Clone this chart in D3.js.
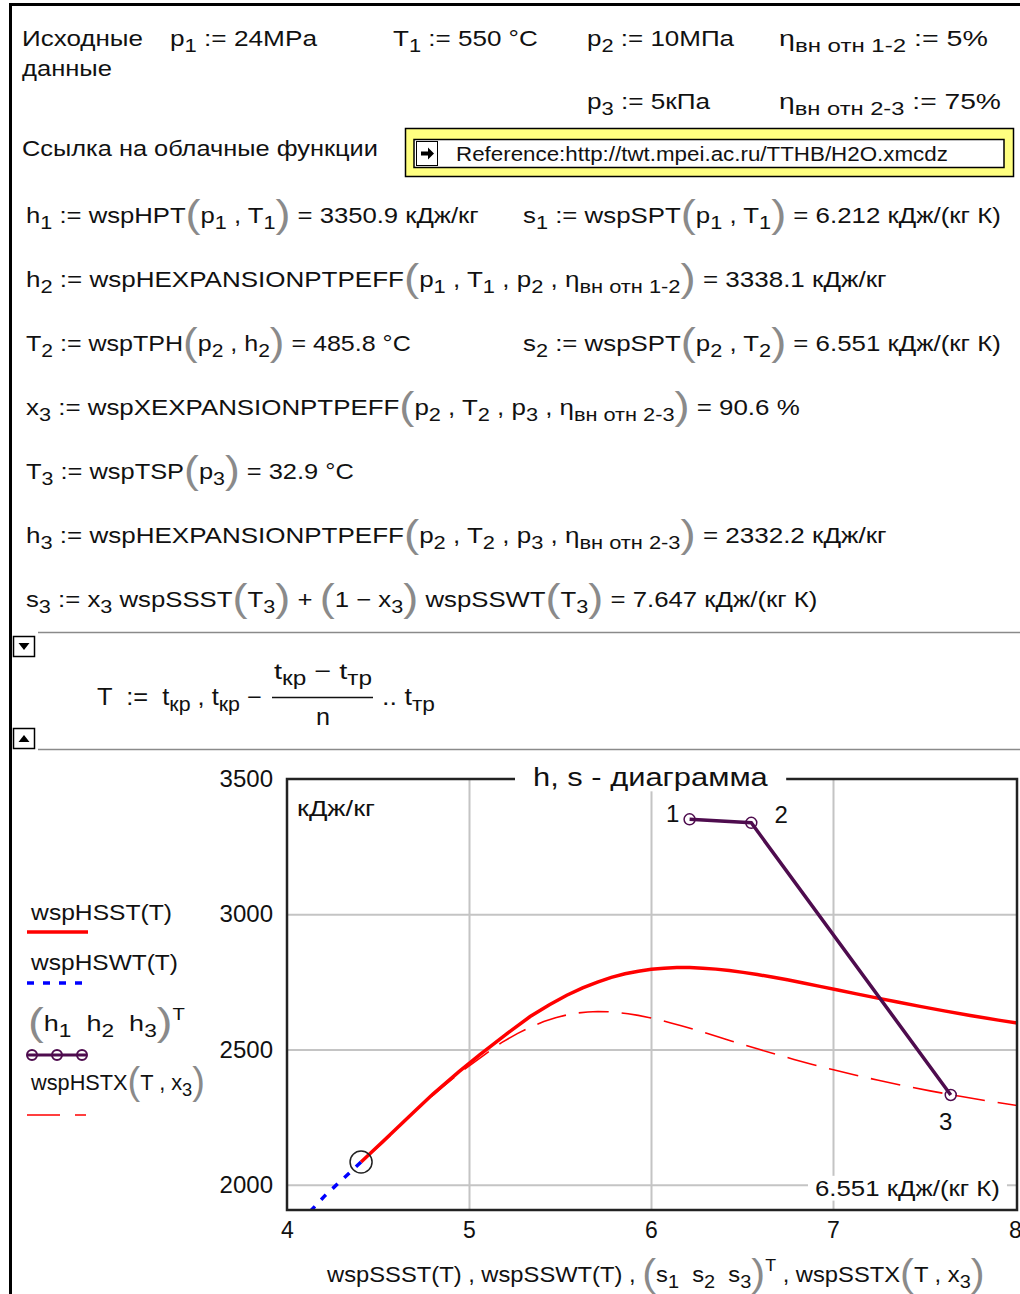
<!DOCTYPE html>
<html><head><meta charset="utf-8">
<script src="https://cdn.jsdelivr.net/npm/d3@7"></script>
<style>
html,body{margin:0;padding:0;background:#fff;}
svg{display:block;font-family:"Liberation Sans",Arial,sans-serif;}
</style></head><body>
<svg id="c" width="1020" height="1294"></svg>
<script>
// ---------------- data ----------------
const xTicks = [4, 5, 6, 7, 8];
const yTicks = [2000, 2500, 3000, 3500];
// saturated steam line wspSSST(T), wspHSST(T)
const steamS = [4.407,4.55,4.625,4.70,4.8004,4.945,5.0600,5.2177,5.3359,5.4420,5.5373,5.6244,5.7059,5.7821,5.8571,5.9306,6.0019,6.0716,6.1423,6.2128,6.2840,6.3563,6.4302,6.5059,6.5841,6.6649,6.7491,6.8371,6.9284,7.0264,7.1292,7.2385,7.3542,7.4781,7.6111,7.7540,7.9082,8.0748,8.2556];
const steamH = [2084.3,2175,2223,2271,2334.5,2418.4,2481.6,2563.6,2622.2,2666.0,2700.6,2727.9,2749.6,2766.7,2779.9,2789.7,2796.6,2800.9,2803.0,2802.9,2800.9,2797.3,2792.0,2785.3,2777.2,2768.3,2757.7,2745.9,2733.5,2720.1,2705.9,2691.1,2675.6,2659.6,2643.0,2626.1,2608.8,2591.3,2573.5];
// saturated water line wspSSWT(T), wspHSWT(T)
const waterS = [4.407,4.29,4.21,4.16,4.1112,3.9167];
const waterH = [2084.3,2011,1961,1925,1890.7,1763];
// wet steam line wspSSTX(T,x3), wspHSTX(T,x3)
const wetS = [4.407,4.5256,4.586,4.649,4.7357,4.8553,4.9486,5.0825,5.1789,5.2652,5.3417,5.4111,5.4755,5.5360,5.5951,5.6530,5.7089,5.7635,5.8189,5.8741,5.9300,5.9867,6.0449,6.1044,6.1663,6.2303,6.2973,6.3675,6.4406,6.5196,6.6027,6.6915,6.7858,6.8873,6.9968,7.1149,7.2429,7.3820,7.5334,7.6986,7.8794,8.0775];
const wetH = [2084.3,2155,2195,2238.5,2292.8,2361.6,2414.0,2479.7,2525.6,2558.9,2584.1,2603.3,2617.5,2627.8,2634.9,2638.9,2640.4,2639.7,2637.0,2632.5,2626.3,2618.7,2609.6,2599.4,2587.8,2575.7,2562.0,2547.2,2531.9,2515.8,2498.9,2481.5,2463.5,2445.0,2426.1,2406.7,2387.2,2367.4,2347.3,2327.2,2306.8,2286.4];
// process points
const procS = [6.212, 6.551, 7.647];
const procH = [3350.9, 3338.1, 2332.2];
const procLabels = ["1", "2", "3"];
// critical point
const critS = [4.407];
const critH = [2084.3];

// ---------------- helpers ----------------
const svg = d3.select("#c");

function mt(parent, spec, x0, x1, yb, fs, opts) {
  opts = opts || {};
  const t = parent.append("text").attr("font-size", fs).style("white-space", "pre")
    .attr("fill", opts.fill || "#111");
  let i = 0, cur = 0;
  const pieces = [];
  while (i < spec.length) {
    const c = spec[i];
    if ((c === "_" || c === "^") && spec[i + 1] === "{") {
      const j = spec.indexOf("}", i);
      pieces.push({ t: spec.slice(i + 2, j), k: c === "_" ? "sub" : "sup" });
      i = j + 1;
    } else if (c === "[" || c === "]") {
      pieces.push({ t: c === "[" ? "(" : ")", k: "paren" });
      i++;
    } else {
      let j = i;
      while (j < spec.length && spec[j] !== "[" && spec[j] !== "]" &&
        !((spec[j] === "_" || spec[j] === "^") && spec[j + 1] === "{")) j++;
      pieces.push({ t: spec.slice(i, j), k: "n" });
      i = j;
    }
  }
  pieces.forEach(p => {
    let size = fs, sh = 0, fill = null;
    if (p.k === "sub") { size = fs * 0.84; sh = fs * 0.27; }
    if (p.k === "sup") { size = fs * 0.75; sh = -fs * 0.5; }
    if (p.k === "paren") { size = fs * 1.75; sh = fs * 0.17; fill = "#8a8a8a"; }
    const ts = t.append("tspan").attr("font-size", size).attr("dy", sh - cur).text(p.t);
    if (fill) ts.attr("fill", fill);
    cur = sh;
  });
  const bb = t.node().getBBox();
  let k = 1;
  if (x1 != null) k = (x1 - x0) / bb.width;
  let tx = x0 - bb.x * k;
  if (opts.anchor === "middle") tx = x0 - (bb.x + bb.width / 2) * k;
  t.attr("transform", `translate(${tx},${yb}) scale(${k},1)`);
  return t;
}

// ---------------- page frame ----------------
svg.append("line").attr("x1", 10.5).attr("x2", 10.5).attr("y1", 3).attr("y2", 1294)
  .attr("stroke", "#000").attr("stroke-width", 3);
svg.append("line").attr("x1", 9).attr("x2", 1020).attr("y1", 4.5).attr("y2", 4.5)
  .attr("stroke", "#000").attr("stroke-width", 3);

// ---------------- header ----------------
const hdr = svg.append("g");
mt(hdr, "Исходные", 22, 143, 46, 22);
mt(hdr, "данные", 22, 112, 76, 22);
mt(hdr, "p_{1} := 24MPa", 170, 318, 46, 22);
mt(hdr, "T_{1} := 550 °C", 393, 538, 46, 22);
mt(hdr, "p_{2} := 10МПа", 587, 735, 46, 22);
mt(hdr, "η_{вн отн 1-2} := 5%", 779, 988, 46, 22);
mt(hdr, "p_{3} := 5кПа", 587, 711, 109, 22);
mt(hdr, "η_{вн отн 2-3} := 75%", 779, 1001, 109, 22);
mt(hdr, "Ссылка на облачные функции", 22, 378, 156, 22);

// reference box
hdr.append("rect").attr("x", 405.5).attr("y", 128.5).attr("width", 608).attr("height", 48)
  .attr("fill", "#ffff80").attr("stroke", "#000").attr("stroke-width", 1.5);
hdr.append("rect").attr("x", 414).attr("y", 139.5).attr("width", 590).attr("height", 28)
  .attr("fill", "#fff").attr("stroke", "#000").attr("stroke-width", 1.5);
hdr.append("rect").attr("x", 416.5).attr("y", 141.5).attr("width", 21).attr("height", 24)
  .attr("fill", "#fff").attr("stroke", "#000").attr("stroke-width", 1);
hdr.append("path").attr("d", "M421,151.5 L428,151.5 L428,147.5 L434,153.5 L428,159.5 L428,155.5 L421,155.5 Z")
  .attr("fill", "#000");
mt(hdr, "Reference:http://twt.mpei.ac.ru/TTHB/H2O.xmcdz", 456, 948, 161, 20);

// ---------------- equations ----------------
const eq = svg.append("g");
mt(eq, "h_{1} := wspHPT[p_{1} , T_{1}] = 3350.9 кДж/кг", 26, 479, 223, 22);
mt(eq, "s_{1} := wspSPT[p_{1} , T_{1}] = 6.212 кДж/(кг К)", 523, 1001, 223, 22);
mt(eq, "h_{2} := wspHEXPANSIONPTPEFF[p_{1} , T_{1} , p_{2} , η_{вн отн 1-2}] = 3338.1 кДж/кг", 26, 887, 287, 22);
mt(eq, "T_{2} := wspTPH[p_{2} , h_{2}] = 485.8 °C", 26, 411, 351, 22);
mt(eq, "s_{2} := wspSPT[p_{2} , T_{2}] = 6.551 кДж/(кг К)", 523, 1001, 351, 22);
mt(eq, "x_{3} := wspXEXPANSIONPTPEFF[p_{2} , T_{2} , p_{3} , η_{вн отн 2-3}] = 90.6 %", 26, 800, 415, 22);
mt(eq, "T_{3} := wspTSP[p_{3}] = 32.9 °C", 26, 354, 479, 22);
mt(eq, "h_{3} := wspHEXPANSIONPTPEFF[p_{2} , T_{2} , p_{3} , η_{вн отн 2-3}] = 2332.2 кДж/кг", 26, 887, 543, 22);
mt(eq, "s_{3} := x_{3} wspSSST[T_{3}] + [1 − x_{3}] wspSSWT[T_{3}] = 7.647 кДж/(кг К)", 26, 818, 607, 22);

// region separators
svg.append("line").attr("x1", 38).attr("x2", 1020).attr("y1", 632.5).attr("y2", 632.5)
  .attr("stroke", "#8a8a8a").attr("stroke-width", 1.5);
svg.append("line").attr("x1", 38).attr("x2", 1020).attr("y1", 749.5).attr("y2", 749.5)
  .attr("stroke", "#8a8a8a").attr("stroke-width", 1.5);
svg.append("rect").attr("x", 13.5).attr("y", 636.5).attr("width", 21).attr("height", 20)
  .attr("fill", "#fff").attr("stroke", "#000").attr("stroke-width", 1.5);
svg.append("path").attr("d", "M18.5,643 L29.5,643 L24,650 Z").attr("fill", "#000");
svg.append("rect").attr("x", 13.5).attr("y", 728.5).attr("width", 21).attr("height", 20)
  .attr("fill", "#fff").attr("stroke", "#000").attr("stroke-width", 1.5);
svg.append("path").attr("d", "M18.5,742 L29.5,742 L24,735 Z").attr("fill", "#000");

// T range formula
const fr = svg.append("g");
mt(fr, "T  :=  t_{кр} , t_{кр} −", 97, 262, 705, 23);
fr.append("line").attr("x1", 272).attr("x2", 373).attr("y1", 697.5).attr("y2", 697.5)
  .attr("stroke", "#111").attr("stroke-width", 1.5);
mt(fr, "t_{кр} − t_{тр}", 274, 372, 679, 23);
mt(fr, "n", 316, 330, 725, 23);
mt(fr, ".. t_{тр}", 382, 435, 705, 23);

// ---------------- chart ----------------
const L = 287, R = 1017, T = 779, B = 1210;
const x = d3.scaleLinear().domain([4, 8]).range([287, 1015]);
const y = d3.scaleLinear().domain([1907, 3500]).range([B, T]);
const ch = svg.append("g");

ch.append("clipPath").attr("id", "clip").append("rect")
  .attr("x", L).attr("y", T).attr("width", R - L).attr("height", B - T);

// grid
const gx = ch.append("g").attr("transform", `translate(0,${B})`)
  .call(d3.axisBottom(x).tickValues([5, 6, 7]).tickSize(-(B - T)).tickFormat(""));
gx.select(".domain").remove();
gx.selectAll("line").attr("stroke", "#c4c4c4").attr("stroke-width", 2);
const gy = ch.append("g").attr("transform", `translate(${L},0)`)
  .call(d3.axisLeft(y).tickValues([2000, 2500, 3000]).tickSize(-(R - L)).tickFormat(""));
gy.select(".domain").remove();
gy.selectAll("line").attr("stroke", "#c4c4c4").attr("stroke-width", 2);

// tick labels
const ax = ch.append("g").attr("transform", `translate(0,${B})`)
  .call(d3.axisBottom(x).tickValues(xTicks).tickSize(0).tickPadding(12).tickFormat(d3.format("d")));
ax.select(".domain").remove();
ax.selectAll("text").attr("font-size", 23).attr("fill", "#111")
  .attr("font-family", '"Liberation Sans",Arial,sans-serif');
const ay = ch.append("g").attr("transform", `translate(${L},0)`)
  .call(d3.axisLeft(y).tickValues(yTicks).tickSize(0).tickPadding(14).tickFormat(d3.format("d")));
ay.select(".domain").remove();
ay.selectAll("text").attr("font-size", 24).attr("fill", "#111")
  .attr("font-family", '"Liberation Sans",Arial,sans-serif');

const plot = ch.append("g").attr("clip-path", "url(#clip)");
const line = d3.line().x(d => x(d[0])).y(d => y(d[1]));

plot.append("path").datum(d3.zip(waterS, waterH)).attr("d", line)
  .attr("fill", "none").attr("stroke", "#0000ff").attr("stroke-width", 3.5)
  .attr("stroke-dasharray", "7,9");
plot.append("path").datum(d3.zip(steamS, steamH)).attr("d", line)
  .attr("fill", "none").attr("stroke", "#ff0000").attr("stroke-width", 3.5);
plot.append("path").datum(d3.zip(wetS, wetH)).attr("d", line)
  .attr("fill", "none").attr("stroke", "#ff0000").attr("stroke-width", 1.6)
  .attr("stroke-dasharray", "30,13").attr("stroke-dashoffset", -10);

const purple = "#4e0c4e";
plot.append("path").datum(d3.zip(procS, procH)).attr("d", line)
  .attr("fill", "none").attr("stroke", purple).attr("stroke-width", 3.5);
plot.selectAll("circle.p").data(d3.zip(procS, procH)).join("circle").attr("class", "p")
  .attr("cx", d => x(d[0])).attr("cy", d => y(d[1])).attr("r", 5.5)
  .attr("fill", "none").attr("stroke", purple).attr("stroke-width", 1.5);
plot.selectAll("circle.c").data(d3.zip(critS, critH)).join("circle").attr("class", "c")
  .attr("cx", d => x(d[0])).attr("cy", d => y(d[1])).attr("r", 11)
  .attr("fill", "none").attr("stroke", "#222").attr("stroke-width", 1.5);

// border
ch.append("rect").attr("x", L).attr("y", T).attr("width", R - L).attr("height", B - T)
  .attr("fill", "none").attr("stroke", "#222").attr("stroke-width", 2.5);

// title with white background
function bgText(parent, spec, x0, x1, yb, fs, padX, padY) {
  const bg = parent.append("rect").attr("fill", "#fff");
  const t = mt(parent, spec, x0, x1, yb, fs);
  const bb = t.node().getBoundingClientRect();
  bg.attr("x", bb.left - padX).attr("y", bb.top - padY)
    .attr("width", bb.width + 2 * padX).attr("height", bb.height + 2 * padY);
  return t;
}
bgText(ch, "h, s - диаграмма", 533, 768, 786, 25, 18, 0);
mt(ch, "кДж/кг", 297, 375, 816, 22);
bgText(ch, "6.551 кДж/(кг К)", 815, 1000, 1196, 22, 7, 0);

// point labels
const lblOff = [[-17, -5], [30, -8], [-5, 27]];
procLabels.forEach((l, i) => {
  mt(ch, l, x(procS[i]) + lblOff[i][0], null, y(procH[i]) + lblOff[i][1] + 8, 24, { anchor: "middle" });
});

// legend
const lg = svg.append("g");
mt(lg, "wspHSST(T)", 30, 172, 920, 22);
lg.append("line").attr("x1", 27).attr("x2", 88).attr("y1", 932).attr("y2", 932)
  .attr("stroke", "#ff0000").attr("stroke-width", 3.5);
mt(lg, "wspHSWT(T)", 30, 178, 970, 22);
lg.append("line").attr("x1", 27).attr("x2", 84).attr("y1", 983).attr("y2", 983)
  .attr("stroke", "#0000ff").attr("stroke-width", 3.5).attr("stroke-dasharray", "7,9");
mt(lg, "[h_{1}  h_{2}  h_{3}]^{T}", 28, 185, 1031, 22);
lg.append("line").attr("x1", 27).attr("x2", 87).attr("y1", 1055).attr("y2", 1055)
  .attr("stroke", purple).attr("stroke-width", 3);
lg.selectAll("circle").data([32, 57, 82]).join("circle")
  .attr("cx", d => d).attr("cy", 1055).attr("r", 5).attr("fill", "none")
  .attr("stroke", purple).attr("stroke-width", 2);
mt(lg, "wspHSTX[T , x_{3}]", 30, 205, 1090, 22);
lg.append("line").attr("x1", 27).attr("x2", 86).attr("y1", 1115).attr("y2", 1115)
  .attr("stroke", "#ff0000").attr("stroke-width", 1.6).attr("stroke-dasharray", "33,15,11,100");

// x axis label
mt(svg, "wspSSST(T) , wspSSWT(T) , [s_{1}  s_{2}  s_{3}]^{T} , wspSSTX[T , x_{3}]", 326, 985, 1282, 22);
</script>
</body></html>
